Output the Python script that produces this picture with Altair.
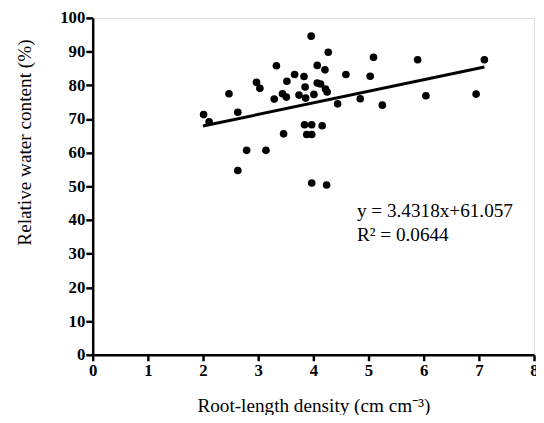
import altair as alt
import pandas as pd

# Data
rld = [2.01, 2.11, 2.47, 2.63, 2.63, 2.79, 2.97, 3.03, 3.14, 3.29, 3.33, 3.44,
       3.46, 3.51, 3.52, 3.66, 3.74, 3.83, 3.85, 3.86, 3.84, 3.88, 3.96, 3.97,
       3.97, 3.97, 4.01, 4.07, 4.07, 4.13, 4.16, 4.21, 4.22, 4.25, 4.24, 4.27,
       4.44, 4.59, 4.85, 5.03, 5.09, 5.25, 5.89, 6.04, 6.95, 7.10]
rwc = [71.3, 69.2, 77.5, 72.0, 54.7, 60.7, 80.9, 79.1, 60.7, 75.9, 85.8, 77.5,
       65.6, 76.5, 81.2, 83.2, 77.1, 82.6, 79.5, 76.2, 68.3, 65.4, 94.6, 68.3,
       65.4, 51.0, 77.3, 85.9, 80.7, 80.4, 68.0, 84.6, 78.9, 78.0, 50.4, 89.8,
       74.5, 83.2, 76.0, 82.7, 88.3, 74.1, 87.6, 76.9, 77.4, 87.6]

slope = 3.4318
intercept = 61.057
fit_x = [2.0, 7.1]
fit_y = [slope * v + intercept for v in fit_x]

eq_text = ["y = 3.4318x+61.057", "R² = 0.0644"]
eq_x = [4.79, 4.79]
eq_y = [41.0, 33.7]

x_ticks = [0, 1, 2, 3, 4, 5, 6, 7, 8]
y_ticks = [0, 10, 20, 30, 40, 50, 60, 70, 80, 90, 100]

pts = pd.DataFrame({"x": rld, "y": rwc})
fit = pd.DataFrame({"x": fit_x, "y": fit_y})
ann = pd.DataFrame({"x": eq_x, "y": eq_y, "t": eq_text})

FONT = "Times New Roman, Liberation Serif, serif"

xs = alt.Scale(domain=[0, 8], nice=False, zero=True)
ys = alt.Scale(domain=[0, 100], nice=False, zero=True)

xaxis = alt.Axis(
    title="Root-length density (cm cm⁻³)",
    values=x_ticks, format="d", grid=False,
    domainColor="black", domainWidth=2.5, tickColor="black", tickWidth=2.5,
    tickSize=6, labelPadding=2, labelFont=FONT, labelFontSize=17,
    labelFontWeight="bold", labelColor="black",
    titleFont=FONT, titleFontSize=19.5, titleFontWeight="normal", titleColor="black",
    titleY=58, titleBaseline="alphabetic", titleAlign="center",
    labelFlush=False, labelOverlap=False,
)
yaxis = alt.Axis(
    title="Relative water content (%)",
    values=y_ticks, format="d", grid=False,
    domainColor="black", domainWidth=2.5, tickColor="black", tickWidth=2.5,
    tickSize=7, labelPadding=1, labelFont=FONT, labelFontSize=17,
    labelFontWeight="bold", labelColor="black",
    titleFont=FONT, titleFontSize=19.5, titleFontWeight="normal", titleColor="black",
    titleX=-63, titleY=126, titleBaseline="alphabetic", titleAlign="center",
    labelFlush=False, labelOverlap=False,
)

X = alt.X("x:Q", scale=xs, axis=xaxis)
Y = alt.Y("y:Q", scale=ys, axis=yaxis)

points = alt.Chart(pts).mark_circle(size=60, color="black", opacity=1).encode(x=X, y=Y)
line = alt.Chart(fit).mark_line(color="black", strokeWidth=3).encode(x=X, y=Y)
text = alt.Chart(ann).mark_text(
    align="left", baseline="alphabetic", font=FONT, fontSize=19.5, color="black"
).encode(x=X, y=Y, text="t:N")

chart = (
    alt.layer(points, line, text)
    .properties(
        width=448, height=342,
        autosize=alt.AutoSizeParams(type="none"),
        padding={"left": 86, "top": 7, "right": 2, "bottom": 58},
    )
    .configure_view(stroke=None)
    .configure(background="white")
)

chart.save("out.html", embed_options={"renderer": "svg", "actions": False})
